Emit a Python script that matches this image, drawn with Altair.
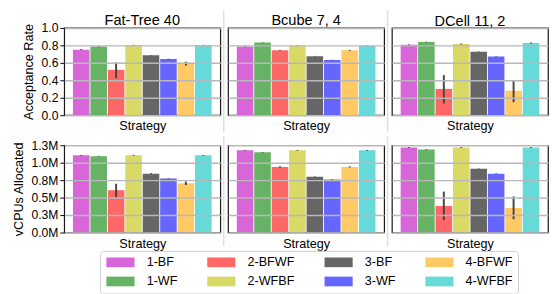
import altair as alt
import pandas as pd

strategies = ["1-BF", "1-WF", "2-BFWF", "2-WFBF", "3-BF", "3-WF", "4-BFWF", "4-WFBF"]
colors = ["#d966d9", "#66b366", "#ff6666", "#d9d966", "#666666", "#6666ff", "#ffc966", "#66d9d9"]
topologies = ["Fat-Tree 40", "Bcube 7, 4", "DCell 11, 2"]

# Acceptance rate (mean, lower CI, upper CI)
acc_fat = [0.751, 0.788, 0.520, 0.803, 0.688, 0.643, 0.602, 0.803]
acc_fat_lo = [0.746, 0.784, 0.424, 0.799, 0.685, 0.639, 0.569, 0.799]
acc_fat_hi = [0.756, 0.792, 0.606, 0.807, 0.691, 0.647, 0.613, 0.807]
acc_bcube = [0.788, 0.833, 0.743, 0.796, 0.677, 0.632, 0.743, 0.796]
acc_bcube_lo = [0.784, 0.830, 0.738, 0.792, 0.674, 0.629, 0.738, 0.792]
acc_bcube_hi = [0.792, 0.836, 0.748, 0.800, 0.680, 0.635, 0.748, 0.800]
acc_dcell = [0.806, 0.840, 0.302, 0.817, 0.728, 0.672, 0.280, 0.828]
acc_dcell_lo = [0.801, 0.837, 0.134, 0.812, 0.725, 0.669, 0.149, 0.823]
acc_dcell_hi = [0.811, 0.843, 0.459, 0.822, 0.731, 0.675, 0.403, 0.833]

# vCPUs allocated (millions)
cpu_fat = [1.106, 1.093, 0.606, 1.106, 0.843, 0.773, 0.704, 1.106]
cpu_fat_lo = [1.100, 1.088, 0.495, 1.100, 0.838, 0.769, 0.681, 1.100]
cpu_fat_hi = [1.112, 1.098, 0.699, 1.112, 0.848, 0.777, 0.731, 1.112]
cpu_bcube = [1.177, 1.149, 0.940, 1.177, 0.800, 0.758, 0.940, 1.177]
cpu_bcube_lo = [1.171, 1.144, 0.932, 1.171, 0.796, 0.754, 0.932, 1.171]
cpu_bcube_hi = [1.183, 1.154, 0.948, 1.183, 0.804, 0.762, 0.948, 1.183]
cpu_dcell = [1.219, 1.191, 0.381, 1.219, 0.912, 0.842, 0.353, 1.219]
cpu_dcell_lo = [1.213, 1.186, 0.177, 1.213, 0.908, 0.838, 0.191, 1.213]
cpu_dcell_hi = [1.225, 1.196, 0.586, 1.225, 0.916, 0.846, 0.516, 1.225]

acc_ticks = [0.0, 0.2, 0.4, 0.6, 0.8, 1.0]
cpu_ticks = [0.0, 0.25e6, 0.5e6, 0.75e6, 1.0e6, 1.25e6]

FONT = "Liberation Sans"
W, H = 161, 90


def panel(vals, lo, hi, title, metric, col, scale_factor=1.0):
    left = col == 0
    df = pd.DataFrame({
        "strategy": strategies,
        "value": [v * scale_factor for v in vals],
        "lo": [v * scale_factor for v in lo],
        "hi": [v * scale_factor for v in hi],
    })
    if metric == "acc":
        yscale = alt.Scale(domain=[0, 1], nice=False)
        tvals = acc_ticks
        ytitle = "Acceptance Rate"
        fmt = dict(format=".1f")
        sep_top, sep_bot = -18, H + 18
    else:
        yscale = alt.Scale(domain=[0, 1.25e6], nice=False)
        tvals = cpu_ticks
        ytitle = "vCPUs Allocated"
        fmt = dict(labelExpr="format(datum.value / 1000000, '.1f') + 'M'")
        sep_top, sep_bot = -9, H + 14
    if left:
        yaxis = alt.Axis(values=tvals, title=ytitle, grid=True,
                         tickSize=4.5, tickColor="black", labelPadding=2, titlePadding=6,
                         domain=False, zindex=1, labelOverlap=False, **fmt)
    else:
        yaxis = alt.Axis(values=tvals, labels=False, title=None, grid=True,
                         ticks=False, domain=False, zindex=1)
    base = alt.Chart(df).encode(
        x=alt.X("strategy:N", sort=strategies,
                scale=alt.Scale(paddingInner=0.05, paddingOuter=0.5),
                axis=alt.Axis(labels=False, ticks=False, domain=False, grid=False,
                              title="Strategy", titlePadding=5)),
    )
    bars = base.mark_bar(opacity=1).encode(
        y=alt.Y("value:Q", scale=yscale, axis=yaxis),
        color=alt.Color("strategy:N",
                        scale=alt.Scale(domain=strategies, range=colors),
                        legend=alt.Legend(title=None, orient="none", legendX=37, legendY=230,
                                          columns=4,
                                          symbolType="M-1,-1L4.8,-1L4.8,1L-1,1Z",
                                          symbolSize=100, symbolStrokeWidth=0,
                                          symbolOpacity=1, labelFontSize=13, labelFont=FONT,
                                          labelOffset=30, columnPadding=29, rowPadding=6,
                                          padding=5, strokeColor="#cccccc", cornerRadius=3,
                                          fillColor="white", labelColor="black")),
    )
    err = base.mark_rule(color="#444444", strokeWidth=2).encode(
        y=alt.Y("lo:Q", scale=yscale, axis=yaxis), y2="hi:Q")
    # light separator line between subplot columns
    visible = col < 2
    sep = alt.Chart(pd.DataFrame({"k": [0]})).mark_rule(
        color="#dedede", strokeWidth=1.5, opacity=1 if visible else 0
    ).encode(
        x=alt.value(W + 3.5 if visible else W / 2),
        y=alt.value(sep_top), y2=alt.value(sep_bot),
    )
    ch = alt.layer(sep, bars, err).properties(width=W, height=H)
    if title:
        ch = ch.properties(title=alt.TitleParams(title, offset=-19))
    return ch


charts = [
    panel(acc_fat, acc_fat_lo, acc_fat_hi, topologies[0], "acc", 0),
    panel(acc_bcube, acc_bcube_lo, acc_bcube_hi, topologies[1], "acc", 1),
    panel(acc_dcell, acc_dcell_lo, acc_dcell_hi, topologies[2], "acc", 2),
    panel(cpu_fat, cpu_fat_lo, cpu_fat_hi, None, "cpu", 0, 1e6),
    panel(cpu_bcube, cpu_bcube_lo, cpu_bcube_hi, None, "cpu", 1, 1e6),
    panel(cpu_dcell, cpu_dcell_lo, cpu_dcell_hi, None, "cpu", 2, 1e6),
]

chart = alt.concat(*charts, columns=3, spacing={"row": 0, "column": 2}).properties(
    padding={"left": 4, "top": -4, "right": 0, "bottom": 0}
).configure_view(
    stroke="#1a1a1a", strokeWidth=1.25
).configure_axis(
    gridColor="#b8b8b8", gridWidth=1.5, labelFont=FONT, titleFont=FONT,
    labelFontSize=12.5, titleFontSize=13, labelColor="black", titleColor="black",
    titleFontWeight="normal", labelOverlap=False
).configure_title(
    font=FONT, fontSize=15, fontWeight="normal", color="black", anchor="middle"
)

chart.save("out.html", embed_options={"renderer": "svg", "actions": False})
